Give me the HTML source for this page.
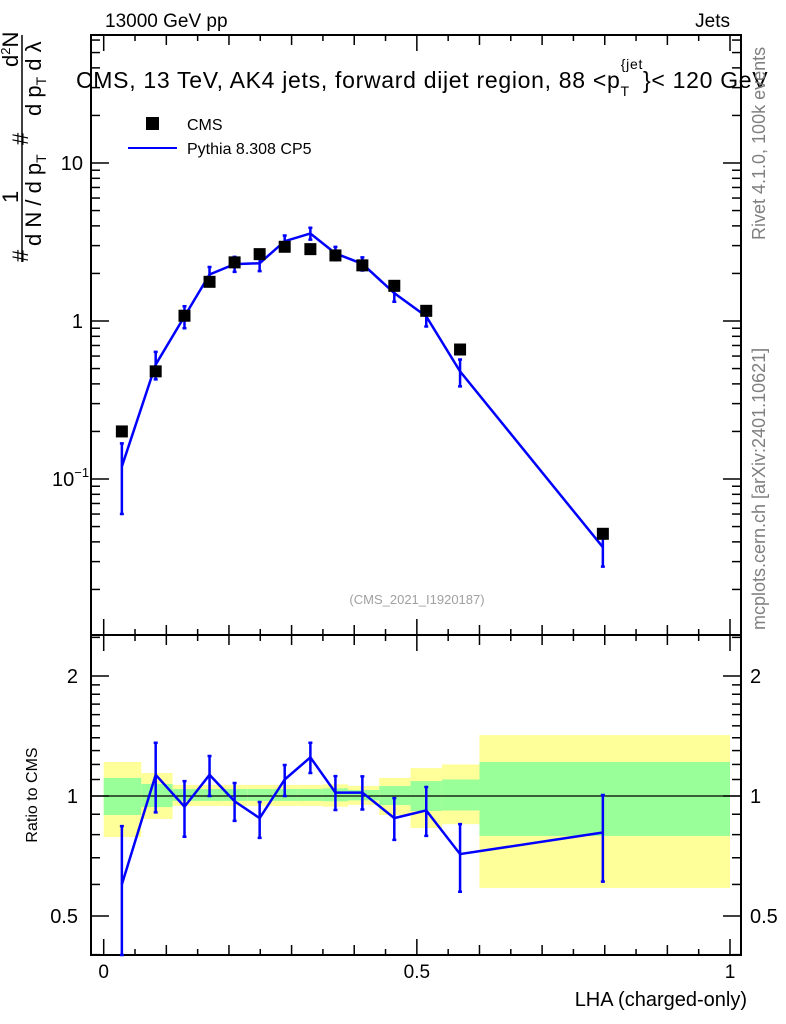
<!DOCTYPE html>
<html><head><meta charset="utf-8"><style>
body{margin:0;background:#fff;}
svg{display:block;font-family:"Liberation Sans",sans-serif;}
</style></head><body>
<svg id="c" width="786" height="1024" xmlns="http://www.w3.org/2000/svg">
<g id="bands"></g>
<g id="axes"></g>
<g id="marks"></g>
<text x="105" y="27" font-size="19">13000 GeV pp</text>
<text x="730" y="27" font-size="19" text-anchor="end">Jets</text>
<text x="76" y="88" font-size="23" letter-spacing="0.7">CMS, 13 TeV, AK4 jets, forward dijet region, 88 &lt;p<tspan font-size="14" dy="8">T</tspan><tspan font-size="14" dx="-9" dy="-27">{jet</tspan><tspan dy="19">}&lt; 120 GeV</tspan></text>
<rect x="146" y="117" width="13" height="13" fill="#000"/>
<text x="187" y="130" font-size="16">CMS</text>
<line x1="128" y1="148" x2="177" y2="148" stroke="#0000ff" stroke-width="2"/>
<text x="187" y="154" font-size="16">Pythia 8.308 CP5</text>
<text x="417" y="604" font-size="13" fill="#a0a0a0" text-anchor="middle">(CMS_2021_I1920187)</text>
<text transform="translate(765,240) rotate(-90)" font-size="18" fill="#808080">Rivet 4.1.0,  100k events</text>
<text transform="translate(765,630) rotate(-90)" font-size="18" fill="#808080">mcplots.cern.ch [arXiv:2401.10621]</text>
<text x="747" y="1006" font-size="20" text-anchor="end">LHA (charged-only)</text>
<text transform="translate(37,795) rotate(-90)" font-size="16" text-anchor="middle">Ratio to CMS</text>
<g font-size="22">
<line x1="22" y1="262" x2="22" y2="35" stroke="#000" stroke-width="1.5"/>
<text transform="translate(28,262) rotate(-90)">#</text>
<text transform="translate(18,203) rotate(-90)">1</text>
<text transform="translate(41,246) rotate(-90)">d N / d p<tspan font-size="14" dy="5">T</tspan></text>
<text transform="translate(28,145) rotate(-90)">#</text>
<text transform="translate(18,67) rotate(-90)">d<tspan font-size="13" dy="-8">2</tspan><tspan dy="8">N</tspan></text>
<text transform="translate(41,116) rotate(-90)">d p<tspan font-size="14" dy="5">T</tspan><tspan dy="-5">  d λ</tspan></text>
</g>
</svg>
<script>
const xsCMS=[0.029,0.083,0.129,0.169,0.209,0.249,0.289,0.330,0.370,0.413,0.464,0.515,0.569,0.797];
const cmsVals=[0.2,0.48,1.08,1.77,2.35,2.65,2.95,2.85,2.6,2.25,1.67,1.16,0.66,0.045];
const mcVals=[0.12,0.53,1.07,1.97,2.29,2.32,3.2,3.58,2.68,2.3,1.5,1.07,0.48,0.037];
const ratioVals=[0.6,1.13,0.94,1.13,0.97,0.88,1.1,1.25,1.02,1.02,0.88,0.92,0.715,0.81];
const ratioHi=[0.84,1.36,1.09,1.26,1.078,0.966,1.196,1.36,1.122,1.12,0.988,1.053,0.85,1.006];
const ratioLo=[0.3,0.91,0.79,1.0,0.866,0.785,1.0,1.142,0.922,0.925,0.776,0.794,0.575,0.61];
const binEdges=[0,0.06,0.11,0.15,0.19,0.23,0.27,0.31,0.35,0.39,0.44,0.49,0.54,0.6,1.0];
const yellowHi=[1.217,1.142,1.066,1.066,1.066,1.066,1.066,1.066,1.07,1.06,1.11,1.175,1.2,1.422];
const yellowLo=[0.789,0.876,0.944,0.944,0.944,0.944,0.944,0.944,0.94,0.95,0.896,0.831,0.85,0.588];
const greenHi=[1.11,1.072,1.041,1.041,1.041,1.041,1.041,1.041,1.045,1.035,1.059,1.09,1.1,1.217];
const greenLo=[0.896,0.938,0.972,0.972,0.972,0.972,0.972,0.972,0.97,0.975,0.949,0.917,0.92,0.794];
const NS='http://www.w3.org/2000/svg';
const X=v=>103.7+v*626.3;
const Ym=v=>321-158*Math.log10(v);
const Yr=v=>796-120*Math.log2(v);
const L=91,R=741,T=35,M=635,B=955;
function mk(tag,attrs,parent){const e=document.createElementNS(NS,tag);for(const k in attrs)e.setAttribute(k,attrs[k]);document.getElementById(parent).appendChild(e);return e;}
for(let i=0;i<binEdges.length-1;i++){
 const x0=X(binEdges[i]),x1=X(binEdges[i+1]);
 const y=mk('rect',{x:x0,y:Yr(yellowHi[i]),width:x1-x0,height:Yr(yellowLo[i])-Yr(yellowHi[i]),fill:'#ffff99'},'bands');
 
 
 const g=mk('rect',{x:x0,y:Yr(greenHi[i]),width:x1-x0,height:Yr(greenLo[i])-Yr(greenHi[i]),fill:'#99ff99'},'bands');
 
 
}
mk('rect',{x:L,y:T,width:R-L,height:M-T,fill:'none',stroke:'#000','stroke-width':2},'axes');
mk('rect',{x:L,y:M,width:R-L,height:B-M,fill:'none',stroke:'#000','stroke-width':2},'axes');
mk('line',{x1:L,y1:796,x2:R,y2:796,stroke:'#000','stroke-width':1.2},'axes');
for(let k=0;k<=20;k++){const v=k*0.05,x=X(v);const len=(k%10==0)?16:(k%2==0?10:6);
 for(const [yb,dir] of [[M,-1],[T,1],[B,-1],[M,1]]){mk('line',{x1:x,y1:yb,x2:x,y2:yb+dir*len,stroke:'#000','stroke-width':1.5},'axes');}
}
[['0',0],['0.5',0.5],['1',1]].forEach(([t,v])=>{const e=mk('text',{x:X(v),y:978,'font-size':19,'text-anchor':'middle'},'axes');e.textContent=t;
 
 });
for(let d=-2;d<=1;d++)for(let m=1;m<=9;m++){const v=m*Math.pow(10,d),y=Ym(v);if(y<T||y>M)continue;const len=m==1?18:9;
 mk('line',{x1:L,y1:y,x2:L+len,y2:y,stroke:'#000','stroke-width':1.5},'axes');
 mk('line',{x1:R,y1:y,x2:R-len,y2:y,stroke:'#000','stroke-width':1.5},'axes');}
[['10',10],['1',1]].forEach(([t,v])=>{const e=mk('text',{x:83,y:Ym(v)+7,'font-size':20,'text-anchor':'end'},'axes');e.textContent=t;
 
 });
{const e=mk('text',{x:52,y:Ym(0.1)+7,'font-size':20},'axes');e.innerHTML='10<tspan font-size="13" dy="-9">−1</tspan>';
 
 }
[0.4,0.5,0.6,0.7,0.8,0.9,1,1.1,1.2,1.3,1.4,1.5,1.6,1.7,1.8,1.9,2,2.5].forEach(v=>{const y=Yr(v);const len=(v==0.5||v==1||v==2)?18:9;
 mk('line',{x1:L,y1:y,x2:L+len,y2:y,stroke:'#000','stroke-width':1.5},'axes');
 mk('line',{x1:R,y1:y,x2:R-len,y2:y,stroke:'#000','stroke-width':1.5},'axes');});
[['2',2],['1',1],['0.5',0.5]].forEach(([t,v])=>{for(const [x,a] of [[78,'end'],[750,'start']]){const e=mk('text',{x:x,y:Yr(v)+7,'font-size':20,'text-anchor':a},'axes');e.textContent=t;
 
 }});
const mcPts=xsCMS.map((x,i)=>X(x)+','+Ym(mcVals[i])).join(' ');
{const p=mk('polyline',{points:mcPts,fill:'none',stroke:'#0000ff','stroke-width':2.5},'marks');
 
 }
function errbar(x,y1,y2,name){const g=mk('path',{d:`M${x},${y1}V${y2}M${x-2},${y1}h4M${x-2},${y2}h4`,stroke:'#0000ff','stroke-width':2.5,fill:'none'},'marks');
 
 }
xsCMS.forEach((x,i)=>{const hi=mcVals[i]*ratioHi[i]/ratioVals[i],lo=mcVals[i]*ratioLo[i]/ratioVals[i];
 errbar(X(x),Ym(hi),Ym(lo),'pythia-error-bar');});
xsCMS.forEach((x,i)=>{const r=mk('rect',{x:X(x)-6,y:Ym(cmsVals[i])-6,width:12,height:12,fill:'#000'},'marks');
 
 });
const rPts=xsCMS.map((x,i)=>X(x)+','+Math.min(B,Yr(ratioVals[i]))).join(' ');
{const p=mk('polyline',{points:rPts,fill:'none',stroke:'#0000ff','stroke-width':2.5},'marks');
 
 }
xsCMS.forEach((x,i)=>errbar(X(x),Yr(ratioHi[i]),Math.min(B,Yr(ratioLo[i])),'ratio-error-bar'));
</script>
</body></html>
